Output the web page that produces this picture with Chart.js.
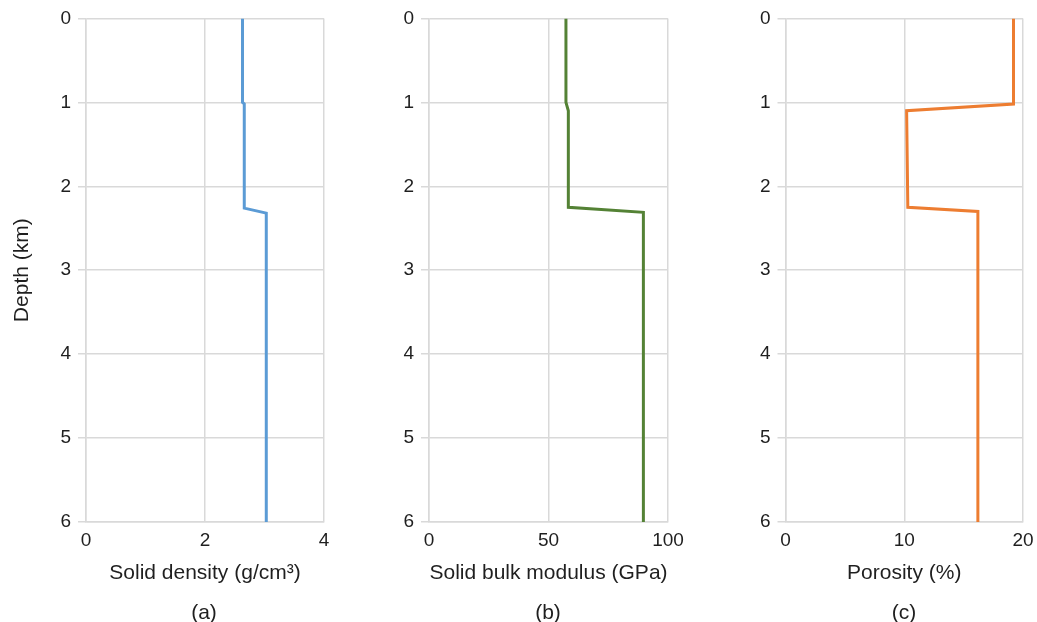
<!DOCTYPE html>
<html>
<head>
<meta charset="utf-8">
<script src="https://cdn.jsdelivr.net/npm/chart.js@4/dist/chart.umd.min.js"></script>
<style>
  body { margin: 0; background: #fff; width: 1037px; height: 622px; position: relative; overflow: hidden; }
  canvas { position: absolute; top: 0; }
  .cap { position: absolute; top: 600px; height: 24px; line-height: 24px; font: 21px "Liberation Sans", Arial, sans-serif; color: #1f1f1f; text-align: center; }
</style>
</head>
<body>
<canvas id="ca" width="340" height="622" style="left:0"></canvas>
<canvas id="cb" width="340" height="622" style="left:360px"></canvas>
<canvas id="cc" width="327" height="622" style="left:710px"></canvas>
<div class="cap" style="left:164px;width:80px">(a)</div>
<div class="cap" style="left:508px;width:80px">(b)</div>
<div class="cap" style="left:864px;width:80px">(c)</div>
<script>
// depth profiles (km) and the property at each vertex
const depthA = [0, 1.0, 1.02, 2.26, 2.32, 6];
const densityA = [2.63, 2.63, 2.66, 2.66, 3.03, 3.03];

const depthB = [0, 1.0, 1.1, 2.25, 2.31, 6];
const modulusB = [57.3, 57.3, 58.3, 58.3, 89.7, 89.7];

const depthC = [0, 1.02, 1.1, 2.25, 2.3, 6];
const porosityC = [19.2, 19.2, 10.2, 10.3, 16.2, 16.2];

const depthTicks = [0, 1, 2, 3, 4, 5, 6];

const FONT = "'Liberation Sans', Arial, sans-serif";
const GRID = "#d9d9d9";
const TEXT = "#1f1f1f";

function makePanel(id, opts) {
  const pts = opts.x.map((v, i) => ({ x: v, y: opts.depth[i] }));
  return new Chart(document.getElementById(id), {
    type: "scatter",
    data: {
      datasets: [{
        data: pts,
        showLine: true,
        borderColor: opts.color,
        borderWidth: 3,
        pointRadius: 0,
        fill: false,
      }],
    },
    options: {
      responsive: false,
      animation: false,
      devicePixelRatio: 1,
      layout: { padding: { top: 18, right: opts.padRight, bottom: 30, left: 0 } },
      plugins: { legend: { display: false }, tooltip: { enabled: false } },
      scales: {
        x: {
          type: "linear",
          position: "bottom",
          min: opts.min,
          max: opts.max,
          ticks: { stepSize: opts.step, padding: 7, color: TEXT, font: { family: FONT, size: 19 } },
          grid: { color: GRID, lineWidth: 1.5, drawTicks: false },
          border: { color: GRID, width: 1.5 },
          title: { display: true, text: opts.title, color: TEXT, padding: { top: 0, bottom: 6 }, font: { family: FONT, size: 21 } },
          afterFit: (s) => { s.height = 70; s.paddingLeft = 0; s.paddingRight = 0; },
        },
        y: {
          type: "linear",
          reverse: true,
          min: 0,
          max: 6,
          afterBuildTicks: (s) => { s.ticks = depthTicks.map((v) => ({ value: v })); },
          ticks: { padding: 7, color: TEXT, font: { family: FONT, size: 19 } },
          grid: { color: GRID, lineWidth: 1.5, tickLength: 8 },
          border: { color: GRID, width: 1.5 },
          title: {
            display: !!opts.yTitle,
            text: opts.yTitle || "",
            color: TEXT,
            padding: { top: 10, bottom: 0 },
            font: { family: FONT, size: 21 },
          },
          afterFit: (s) => { s.width = opts.yWidth; },
        },
      },
    },
  });
}

makePanel("ca", {
  depth: depthA, x: densityA, color: "#5b9bd5",
  min: 0, max: 4, step: 2, title: "Solid density (g/cm³)",
  yTitle: "Depth (km)", yWidth: 86, padRight: 16,
});
makePanel("cb", {
  depth: depthB, x: modulusB, color: "#548235",
  min: 0, max: 100, step: 50, title: "Solid bulk modulus (GPa)",
  yWidth: 69, padRight: 32,
});
makePanel("cc", {
  depth: depthC, x: porosityC, color: "#ed7d31",
  min: 0, max: 20, step: 10, title: "Porosity (%)",
  yWidth: 75.5, padRight: 14,
});
</script>
</body>
</html>
